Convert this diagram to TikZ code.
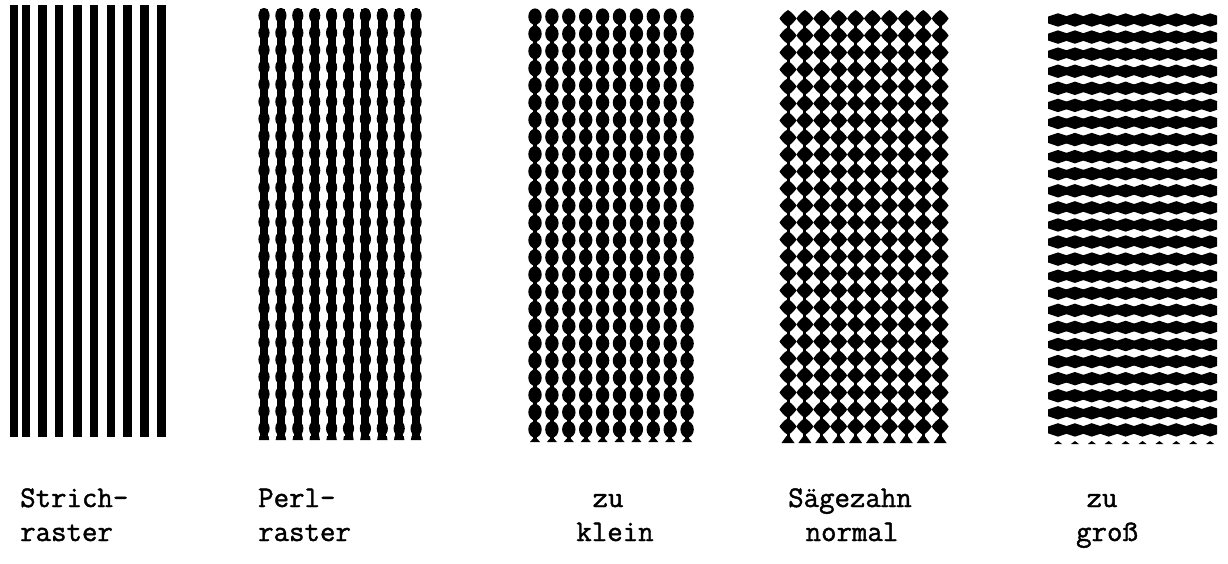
\documentclass[tikz,border=0pt]{standalone}
\usepackage{fontspec}
\usepackage{xcolor}
\usepackage{tikz}
\usetikzlibrary{positioning}
\newfontfamily\typefont{Latin Modern Mono}[FakeBold=1.4]

\begin{document}
\begin{tikzpicture}[x=1pt, y=-1pt,
    lbl/.style={font=\typefont\bfseries\fontsize{30}{38}\selectfont, inner sep=0pt},
    ink/.style={fill=black, draw=none}]
    \useasboundingbox (0,0) rectangle (1228,564);

    % Strichraster
    \foreach \cx in {14,26,42.5,59,77.5,94,111,127.5,144.5,161.5}
        \fill[ink] (\cx-4.25,5) rectangle (\cx+4.25,437);

    % Perlraster
    \foreach \i in {0,...,9}{
        \pgfmathsetmacro\cx{264+16.9*\i}
        \fill[ink] (\cx-4,9) rectangle (\cx+4,437);
        \fill[ink] (\cx-4.5,436) -- (\cx+4.5,436) -- (\cx+5.2,440) -- (\cx-5.2,440) -- cycle;
        \foreach \k in {0,...,24}
            \fill[ink] (\cx,15.6+17.2*\k) ellipse [x radius=5.6pt, y radius=7.6pt];
    }

    % Saegezahn zu klein
    \foreach \i in {0,...,9}{
        \pgfmathsetmacro\cx{535+16.9*\i}
        \fill[ink] (\cx-2,10) rectangle (\cx+2,439);
        \fill[ink] (\cx-2,438.5) -- (\cx+2,438.5) -- (\cx+5,442) -- (\cx-5,442) -- cycle;
        \foreach \k in {0,...,24}
            \fill[ink] (\cx,16.6+17.2*\k) ellipse [x radius=6.7pt, y radius=8.2pt];
    }

    % Saegezahn normal
    \foreach \i in {0,...,9}{
        \pgfmathsetmacro\cx{788+16.9*\i}
        \fill[ink] (\cx-1.5,12) rectangle (\cx+1.5,438);
        \fill[ink] (\cx-1.5,436) -- (\cx+1.5,436) -- (\cx+6.5,443) -- (\cx-6.5,443) -- cycle;
        \foreach \k in {0,...,24}{
            \pgfmathsetmacro\yt{10+17*\k}
            \fill[ink] (\cx,\yt)
                .. controls (\cx+3.5,\yt+2.2) and (\cx+6.3,\yt+5.1) .. (\cx+8.5,\yt+8.5)
                .. controls (\cx+6.3,\yt+11.9) and (\cx+3.5,\yt+14.8) .. (\cx,\yt+17)
                .. controls (\cx-3.5,\yt+14.8) and (\cx-6.3,\yt+11.9) .. (\cx-8.5,\yt+8.5)
                .. controls (\cx-6.3,\yt+5.1) and (\cx-3.5,\yt+2.2) .. (\cx,\yt) -- cycle;
        }
    }

    % Saegezahn zu gross
    \begin{scope}
        \clip (1048,0) rectangle (1217,450);
        \foreach \i in {0,...,9}{
            \pgfmathsetmacro\cx{1058+16.9*\i}
            \foreach \k in {0,...,24}{
                \pgfmathsetmacro\cy{20+17.08*\k}
                \fill[ink] (\cx,\cy-6.7) -- (\cx+20,\cy) -- (\cx,\cy+6.7) -- (\cx-20,\cy) -- cycle;
            }
            \fill[ink] (\cx-4,444) -- (\cx,441) -- (\cx+4,444) -- cycle;
        }
    \end{scope}

    % labels
    \node[lbl, anchor=base west] (strich) at (20,507) {Strich-};
    \node[lbl, anchor=base west] (strichb) at (20,541) {raster};
    \node[lbl, anchor=base west] (perl) at (258,507) {Perl-};
    \node[lbl, anchor=base west] (perlb) at (258,541) {raster};
    \node[lbl, anchor=base] (klein) at (608,507) {zu};
    \node[lbl, anchor=base] (kleinb) at (615,541) {klein};
    \node[lbl, anchor=base] (normal) at (850,507) {Sägezahn};
    \node[lbl, anchor=base] (normalb) at (852,541) {normal};
    \node[lbl, anchor=base] (gross) at (1102,507) {zu};
    \node[lbl, anchor=base] (grossb) at (1107,541) {groß};
\end{tikzpicture}
\end{document}
